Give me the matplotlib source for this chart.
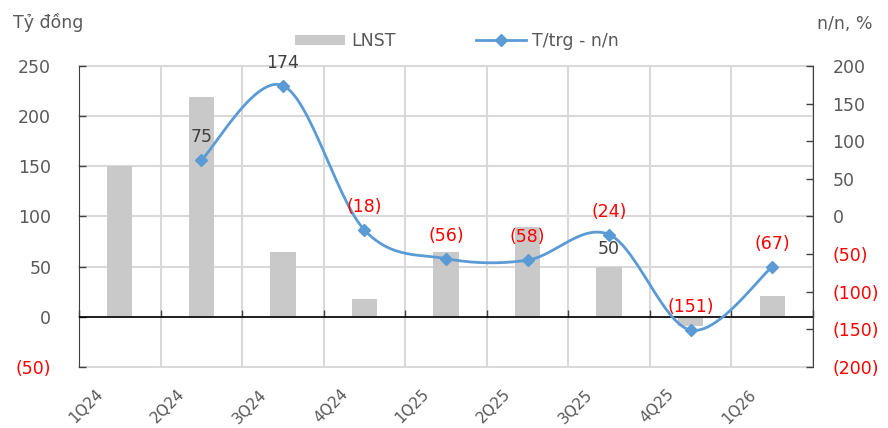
import matplotlib.pyplot as plt
import matplotlib.transforms as mtransforms
import numpy as np
from matplotlib.lines import Line2D
from matplotlib.patches import Patch

# số liệu
quarters = ['1Q24', '2Q24', '3Q24', '4Q24', '1Q25', '2Q25', '3Q25', '4Q25', '1Q26']
lnst = [150, 219, 65, 18, 65, 90, 50, -9, 21]          # Tỷ đồng
yoy = [None, 75, 174, -18, -56, -58, -24, -151, -67]    # n/n, %
lnst_labelled = ['3Q25']

GRAY_TXT = '#595959'
RED = '#FF0000'
BAR = '#C9C9C9'
BLUE = '#5B9BD5'
GRID = '#D9D9D9'
FS = 12.5

plt.rcParams['font.family'] = ['DejaVu Sans']


def fmt(v):
    return f'({abs(v):.0f})' if v < 0 else f'{v:.0f}'


def catmull_rom(px, py, n=30):
    # đường cong làm mượt kiểu Excel
    px = np.asarray(px, float)
    py = np.asarray(py, float)
    xs, ys = [], []
    m = len(px)
    for i in range(m - 1):
        p0 = i - 1 if i > 0 else i
        p3 = i + 2 if i + 2 < m else i + 1
        c1x = px[i] + (px[i + 1] - px[p0]) / 6
        c1y = py[i] + (py[i + 1] - py[p0]) / 6
        c2x = px[i + 1] - (px[p3] - px[i]) / 6
        c2y = py[i + 1] - (py[p3] - py[i]) / 6
        t = np.linspace(0, 1, n)
        a, b, c, d = (1 - t) ** 3, 3 * t * (1 - t) ** 2, 3 * t ** 2 * (1 - t), t ** 3
        xs.append(a * px[i] + b * c1x + c * c2x + d * px[i + 1])
        ys.append(a * py[i] + b * c1y + c * c2y + d * py[i + 1])
    return np.concatenate(xs), np.concatenate(ys)


fig = plt.figure(figsize=(8.88, 4.28), dpi=100)
ax = fig.add_axes([79 / 888, 1 - 367 / 428, 734 / 888, 301 / 428])
ax2 = ax.twinx()

x = np.arange(len(quarters))

# cột LNST
ax.bar(x, lnst, width=0.31, color=BAR, zorder=2)
for q, xi, v in zip(quarters, x, lnst):
    if q in lnst_labelled:
        ax.annotate(fmt(v), (xi, v), xytext=(0, 6), textcoords='offset points',
                    ha='center', va='bottom', fontsize=FS,
                    color='#404040' if v >= 0 else RED, zorder=6)

ax.set_xlim(-0.5, len(quarters) - 0.5)
ax.set_ylim(-50, 250)
yl = np.arange(-50, 251, 50)
ax.set_yticks(yl)
ax.set_yticklabels([fmt(v) for v in yl])
for lab, v in zip(ax.get_yticklabels(), yl):
    lab.set_color(RED if v < 0 else GRAY_TXT)
ax.tick_params(axis='y', direction='in', length=5, width=1, color='#404040',
               labelsize=FS, pad=20)
for v in yl:
    ax.axhline(v, color=GRID, lw=1.5, zorder=0, clip_on=False)
for b in np.arange(-0.5, len(quarters), 1):
    ax.axvline(b, color=GRID, lw=1.5, zorder=0)

ax.set_xticks(x, quarters)
ax.tick_params(axis='x', length=0, labelsize=11, labelcolor=GRAY_TXT, pad=18)
off = mtransforms.ScaledTranslation(-0.19, 0, fig.dpi_scale_trans)
for lab in ax.get_xticklabels():
    lab.set_rotation(45)
    lab.set_ha('right')
    lab.set_va('center')
    lab.set_rotation_mode('anchor')
    lab.set_transform(lab.get_transform() + off)

for s in ['top', 'bottom', 'right']:
    ax.spines[s].set_visible(False)
ax.spines['left'].set_color('#404040')

# trục hoành tại 0 với vạch chia giữa các quý
ax.axhline(0, color='black', lw=1.2, zorder=3)
zx = ax.secondary_xaxis(50 / 300)
zx.set_xticks(np.arange(-0.5, len(quarters), 1))
zx.tick_params(direction='in', length=5, width=1, color='#404040', labelbottom=False)
zx.spines['bottom'].set_visible(False)

# đường tăng trưởng n/n
lx = [xi for xi, v in zip(x, yoy) if v is not None]
ly = [v for v in yoy if v is not None]
sx, sy = catmull_rom(lx, ly)
ax2.plot(sx, sy, color=BLUE, lw=2, zorder=4)
ax2.plot(lx, ly, ls='none', marker='D', ms=6.5, color=BLUE, zorder=5)
for xi, v in zip(lx, ly):
    ax2.annotate(fmt(v), (xi, v), xytext=(0, 10), textcoords='offset points',
                 ha='center', va='bottom', fontsize=FS,
                 color='#404040' if v >= 0 else RED, zorder=6)

ax2.set_ylim(-200, 200)
yr = np.arange(-200, 201, 50)
ax2.set_yticks(yr)
ax2.set_yticklabels([fmt(v) for v in yr])
for lab, v in zip(ax2.get_yticklabels(), yr):
    lab.set_color(RED if v < 0 else GRAY_TXT)
ax2.tick_params(axis='y', direction='in', length=5, width=1, color='#404040',
                labelsize=FS, pad=14)
for s in ['top', 'bottom', 'left']:
    ax2.spines[s].set_visible(False)
ax2.spines['right'].set_color('#404040')

# chú thích
handles = [Patch(facecolor=BAR, edgecolor='none'),
           Line2D([], [], color=BLUE, lw=2, marker='D', ms=6)]
fig.legend(handles, ['LNST', 'T/trg - n/n'], loc='center', ncol=2,
           bbox_to_anchor=(457 / 888, 1 - 41 / 428), frameon=False,
           fontsize=FS, labelcolor=GRAY_TXT, handlelength=2.9,
           handleheight=0.55, handletextpad=0.35, columnspacing=4.6)

fig.text(13 / 888, 1 - 22 / 428, 'Tỷ đồng', ha='left', va='center',
         fontsize=FS, color=GRAY_TXT)
fig.text(872 / 888, 1 - 24 / 428, 'n/n, %', ha='right', va='center',
         fontsize=FS, color=GRAY_TXT)

fig.savefig('out.png', dpi=100)
